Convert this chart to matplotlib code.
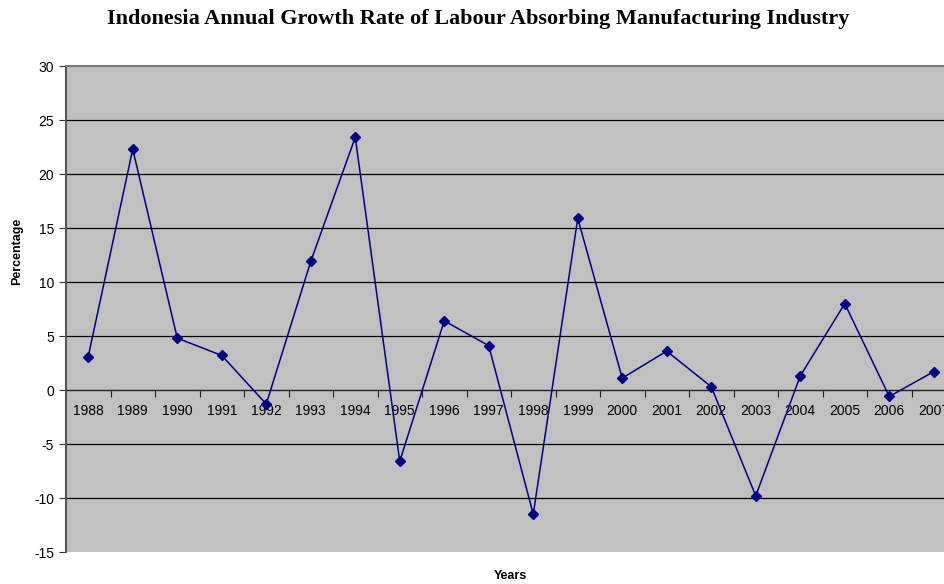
import matplotlib.pyplot as plt
import numpy as np

plt.rcParams['font.family'] = ['Liberation Sans', 'DejaVu Sans']
plt.rcParams['axes.unicode_minus'] = False

years = ['1988', '1989', '1990', '1991', '1992', '1993', '1994', '1995', '1996', '1997',
         '1998', '1999', '2000', '2001', '2002', '2003', '2004', '2005', '2006', '2007']
growth = [3.1, 22.3, 4.8, 3.2, -1.3, 11.9, 23.4, -6.6, 6.4, 4.1,
          -11.5, 15.9, 1.1, 3.6, 0.3, -9.8, 1.3, 8.0, -0.6, 1.7]
yticks = [-15, -10, -5, 0, 5, 10, 15, 20, 25, 30]

fig = plt.figure(figsize=(9.45, 5.84), dpi=100)
# plot area runs past the right edge, like the original screenshot
ax = fig.add_axes([66 / 945, 1 - 552 / 584, 890 / 945, 486 / 584])
ax.set_facecolor('#c0c0c0')

x = np.arange(len(years))
ax.plot(x, growth, color='#000080', lw=1.1, marker='D', ms=5, zorder=3)

ax.set_xlim(-0.5, len(years) - 0.5)
ax.set_ylim(-15, 30)
ax.set_yticks(yticks)
ax.tick_params(axis='y', length=5, labelsize=10, color='#333333')
for v in yticks[1:-1]:
    ax.axhline(v, color='black', lw=0.9, zorder=1)

# category axis crosses at zero
ax.spines['bottom'].set_position(('data', 0))
ax.spines['bottom'].set_color('#222222')
ax.spines['left'].set_color('#555555')
ax.spines['left'].set_linewidth(1.5)
ax.spines['top'].set_color('#777777')
ax.spines['top'].set_linewidth(1.5)
ax.spines['right'].set_visible(False)

ax.set_xticks(np.arange(-0.5, len(years), 1.0))
ax.set_xticklabels([])
ax.tick_params(axis='x', which='major', length=5, color='#222222')
ax.set_xticks(x, minor=True)
ax.set_xticklabels(years, minor=True, fontsize=10)
ax.tick_params(axis='x', which='minor', length=0, pad=10)

fig.text(0.506, 0.968, 'Indonesia Annual Growth Rate of Labour Absorbing Manufacturing Industry',
         ha='center', va='center', family='Liberation Serif', fontweight='bold', fontsize=16)
fig.text(0.018, 0.57, 'Percentage', rotation=90, ha='center', va='center',
         fontweight='bold', fontsize=9)
fig.text(0.54, 1 - 576 / 584, 'Years', ha='center', va='center', fontweight='bold', fontsize=9)

fig.savefig('out.png', dpi=100)
